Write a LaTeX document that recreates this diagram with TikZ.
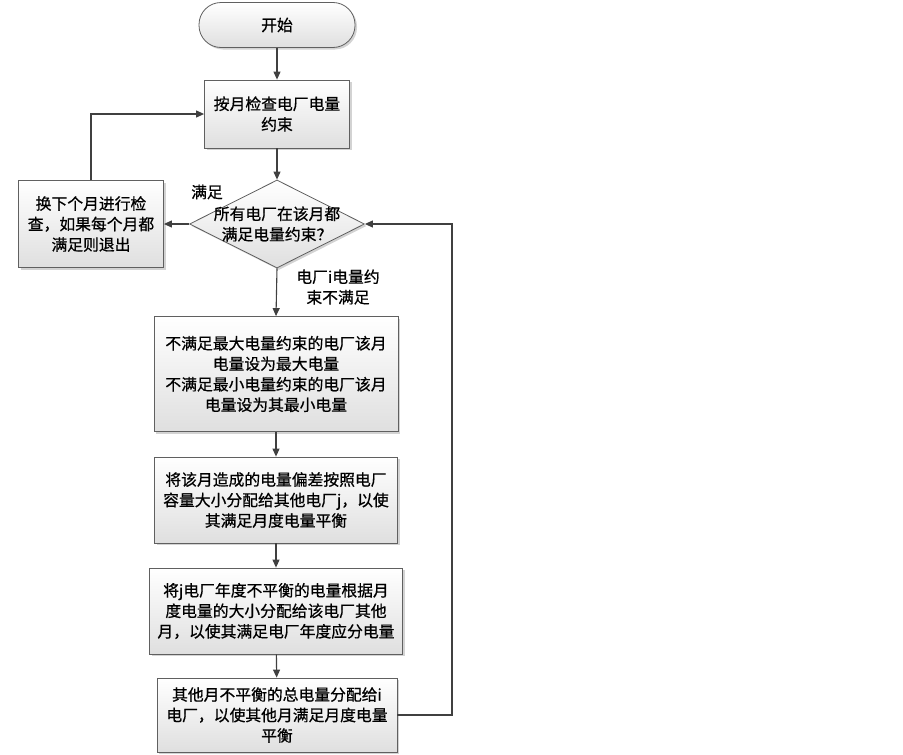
\documentclass[tikz,border=0pt]{standalone}
\usepackage{fontspec}
\setmainfont{Noto Sans CJK SC}[FakeBold=0.7]
\usetikzlibrary{shapes.geometric,arrows.meta,shadows}
\begin{document}
\begin{tikzpicture}[x=1pt,y=-1pt,
  box/.style={draw=gray!75!black, line width=0.8pt, top color=white, bottom color=gray!25,
    drop shadow={shadow xshift=2pt, shadow yshift=-2pt, opacity=0.35, fill=gray},
    inner sep=0pt, align=center, font=\fontsize{15.8}{20.5}\selectfont},
  lbl/.style={align=center, inner sep=0pt, font=\fontsize{15.8}{20.5}\selectfont},
  conn/.style={draw=black!75, line width=1.1pt},
  arr/.style={conn, -{Triangle[length=8pt,width=7pt]}}]
\useasboundingbox (0,0) rectangle (903,755);
\node[box, rounded corners=22pt, minimum width=156pt, minimum height=45pt] (start) at (277,25) {开始};
\node[box, minimum width=145pt, minimum height=68pt] (b1) at (277,114) {按月检查电厂电量\\约束};
\node[box, diamond, minimum width=175pt, minimum height=88pt] (dia) at (277,224) {};
\node[lbl] (diatxt) at (277,224) {所有电厂在该月都\\满足电量约束？};
\node[box, minimum width=145pt, minimum height=87pt] (left) at (91,224) {换下个月进行检\\查，如果每个月都\\满足则退出};
\node[box, minimum width=244pt, minimum height=115pt] (b2) at (276,374) {不满足最大电量约束的电厂该月\\电量设为最大电量\\不满足最小电量约束的电厂该月\\电量设为其最小电量};
\node[box, minimum width=243pt, minimum height=86pt] (b3) at (276,500) {将该月造成的电量偏差按照电厂\\容量大小分配给其他电厂j，以使\\其满足月度电量平衡};
\node[box, minimum width=253pt, minimum height=86pt] (b4) at (276,611) {将j电厂年度不平衡的电量根据月\\度电量的大小分配给该电厂其他\\月，以使其满足电厂年度应分电量};
\node[box, minimum width=240pt, minimum height=74pt] (b5) at (277,715) {其他月不平衡的总电量分配给i\\电厂，以使其他月满足月度电量\\平衡};
\node[lbl] (yes) at (207,192) {满足};
\node[lbl] (no) at (338,287) {电厂i电量约\\束不满足};
\coordinate (loop) at (452,715);
\draw[arr] (start) -- (b1);
\draw[arr] (b1) -- (dia.north);
\draw[arr] (dia.west) -- (left.east);
\draw[arr] (left.north) |- (b1.west);
\draw[arr] (dia.south) -- (b2.north);
\draw[arr] (b2) -- (b3);
\draw[arr] (b3) -- (b4);
\draw[arr] (b4) -- (b5);
\draw[arr] (b5.east) -- (loop) |- (dia.east);
\end{tikzpicture}
\end{document}
